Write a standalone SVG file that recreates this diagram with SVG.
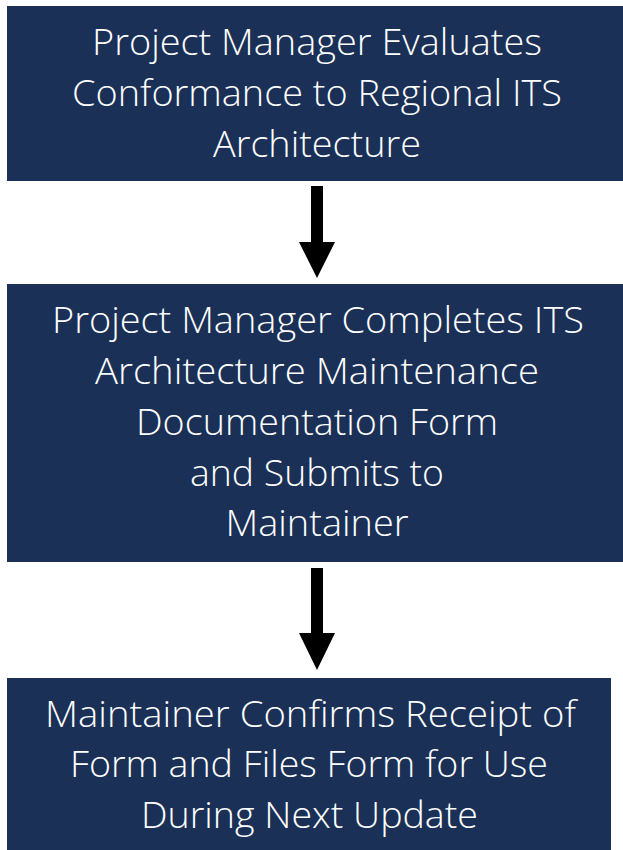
<svg xmlns="http://www.w3.org/2000/svg" width="623" height="850" viewBox="0 0 623 850">
  <style>
    .box { fill: #1A3056; }
    .label { font-family: "Open Sans", "Noto Sans", "Liberation Sans", sans-serif; font-weight: 300; font-size: 36px; fill: #ffffff; text-anchor: middle; }
    .arrow { fill: #000000; }
  </style>
  <rect width="623" height="850" fill="#ffffff"/>

  <g id="evaluate">
    <rect class="box" x="7" y="6" width="616" height="175"/>
    <text class="label" x="317" y="55" textLength="450" lengthAdjust="spacingAndGlyphs">Project Manager Evaluates</text>
    <text class="label" x="317" y="106" textLength="490" lengthAdjust="spacingAndGlyphs">Conformance to Regional ITS</text>
    <text class="label" x="317" y="157" textLength="208" lengthAdjust="spacingAndGlyphs">Architecture</text>
  </g>

  <g id="complete-form">
    <rect class="box" x="7" y="284" width="616" height="278"/>
    <text class="label" x="318" y="333" textLength="532" lengthAdjust="spacingAndGlyphs">Project Manager Completes ITS</text>
    <text class="label" x="317" y="384" textLength="444" lengthAdjust="spacingAndGlyphs">Architecture Maintenance</text>
    <text class="label" x="317" y="435" textLength="362" lengthAdjust="spacingAndGlyphs">Documentation Form</text>
    <text class="label" x="317" y="486" textLength="254" lengthAdjust="spacingAndGlyphs">and Submits to</text>
    <text class="label" x="317" y="536" textLength="183" lengthAdjust="spacingAndGlyphs">Maintainer</text>
  </g>

  <g id="confirm-receipt">
    <rect class="box" x="7" y="678" width="604" height="172"/>
    <text class="label" x="310.5" y="727" textLength="531" lengthAdjust="spacingAndGlyphs">Maintainer Confirms Receipt of</text>
    <text class="label" x="309" y="777" textLength="478" lengthAdjust="spacingAndGlyphs">Form and Files Form for Use</text>
    <text class="label" x="309.5" y="828" textLength="337" lengthAdjust="spacingAndGlyphs">During Next Update</text>
  </g>

  <g id="connectors">
    <path class="arrow" d="M311 186 H323 V242 H335 L317 278 L299 242 H311 Z"/>
    <path class="arrow" d="M311 568 H323 V633 H335 L317 670 L299 633 H311 Z"/>
  </g>
</svg>
